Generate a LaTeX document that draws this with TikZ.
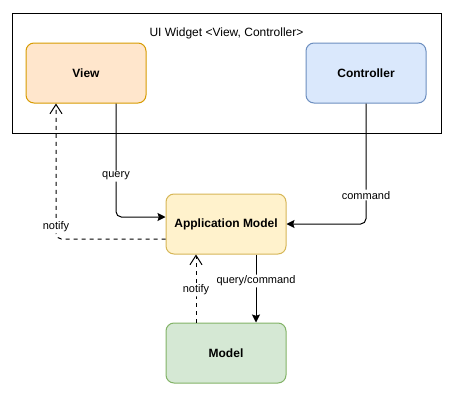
\documentclass[tikz,border=0pt]{standalone}
\usepackage{fontspec}
\setmainfont{Liberation Sans}
\usetikzlibrary{arrows.meta,calc}
\definecolor{viewfill}{HTML}{FFE6CC}
\definecolor{viewline}{HTML}{D79B00}
\definecolor{ctrlfill}{HTML}{DAE8FC}
\definecolor{ctrlline}{HTML}{6C8EBF}
\definecolor{appfill}{HTML}{FFF2CC}
\definecolor{appline}{HTML}{D6B656}
\definecolor{modelfill}{HTML}{D5E8D4}
\definecolor{modelline}{HTML}{82B366}
\tikzset{
	box/.style={rectangle, rounded corners=6pt, line width=0.75pt, minimum width=90pt, minimum height=45pt, font=\fontsize{9}{11}\selectfont\bfseries},
	flow/.style={line width=0.75pt, rounded corners=4pt, -{Stealth[length=6pt,width=6pt,inset=1pt]}},
	notifyflow/.style={line width=0.75pt, dashed, rounded corners=4pt, -{Straight Barb[length=7pt,width=9pt]}},
	lbl/.style={fill=white, inner sep=1pt, font=\fontsize{8.25}{10}\selectfont}
}
\begin{document}
\begin{tikzpicture}[x=0.75pt, y=-0.75pt]
	\useasboundingbox (0,0) rectangle (457,407);
	% widget frame
	\node[draw, line width=0.75pt, minimum width=321.75pt, minimum height=90pt, inner sep=0pt] (widget) at (226.5,73) {};
	\node[font=\fontsize{9}{11}\selectfont] (title) at (226.5,33) {UI Widget <View, Controller>};
	% boxes
	\node[box, fill=viewfill, draw=viewline] (view) at (86,73) {View};
	\node[box, fill=ctrlfill, draw=ctrlline] (ctrl) at (366,73) {Controller};
	\node[box, fill=appfill, draw=appline] (app) at (226,224) {Application Model};
	\node[box, fill=modelfill, draw=modelline] (model) at (226,353) {Model};
	% connectors
	\draw[flow] ($(view.south)+(30,0)$) |- node[lbl, pos=0.32]{query} ($(app.west)+(0,-7)$);
	\draw[flow] (ctrl.south) |- node[lbl, pos=0.38]{command} (app.east);
	\draw[notifyflow] ($(app.west)+(0,15)$) -| node[lbl, pos=0.545]{notify} ($(view.south)+(-30,0)$);
	\draw[notifyflow] ($(model.north)+(-30,0)$) -- node[lbl, pos=0.48]{notify} ($(app.south)+(-30,0)$);
	\draw[flow] ($(app.south)+(30,0)$) -- node[lbl, pos=0.39]{query/command} ($(model.north)+(30,0)$);
\end{tikzpicture}
\end{document}
